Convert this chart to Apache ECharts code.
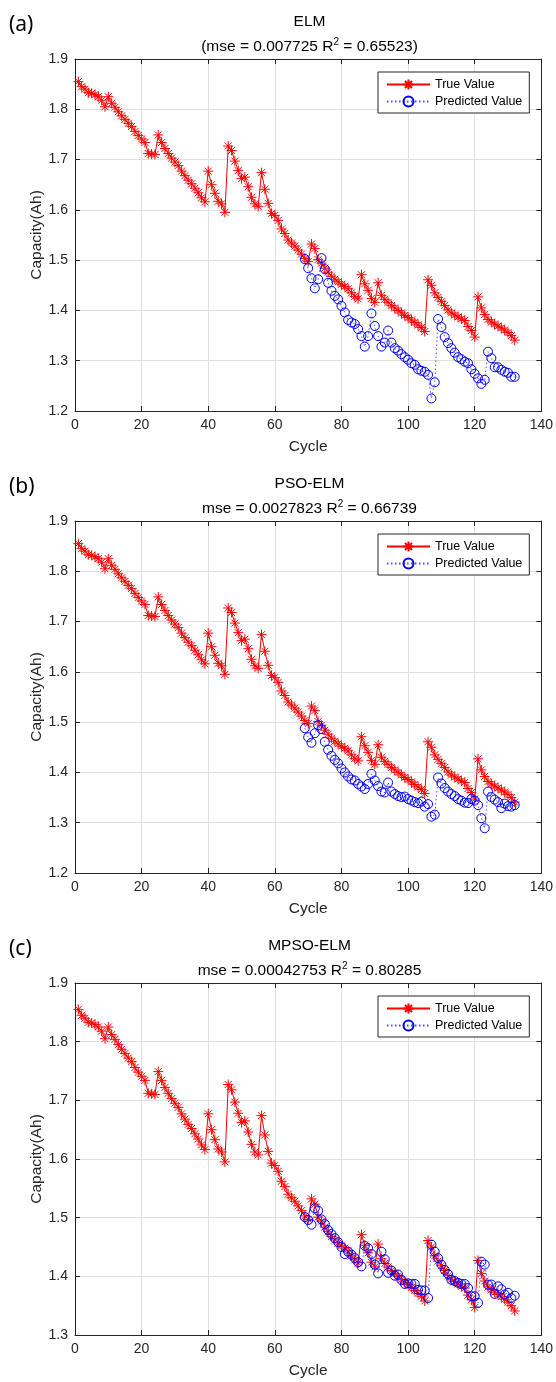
<!DOCTYPE html>
<html><head><meta charset="utf-8">
<script src="https://cdn.jsdelivr.net/npm/echarts@6/dist/echarts.min.js"></script>
<style>html,body{margin:0;padding:0;background:#fff}#c{width:556px;height:1382px}</style>
</head><body><div id="c"></div>
<script>
// ---- data ----
const trueCap = [
 1.855,1.845,1.840,1.833,1.832,1.829,1.825,1.818,1.805,1.825,
 1.812,1.804,1.795,1.787,1.780,1.772,1.766,1.756,1.748,1.741,
 1.734,1.712,1.711,1.710,1.749,1.734,1.722,1.712,1.703,1.695,
 1.688,1.677,1.668,1.659,1.652,1.643,1.634,1.624,1.616,1.677,
 1.650,1.633,1.617,1.612,1.595,1.727,1.718,1.697,1.678,1.662,
 1.665,1.646,1.625,1.612,1.607,1.674,1.641,1.613,1.593,1.589,
 1.579,1.562,1.553,1.540,1.534,1.528,1.520,1.512,1.503,1.497,
 1.532,1.523,1.501,1.494,1.484,1.476,1.468,1.462,1.457,1.452,
 1.448,1.443,1.435,1.428,1.423,1.471,1.453,1.440,1.424,1.416,
 1.455,1.430,1.422,1.416,1.410,1.405,1.400,1.395,1.390,1.386,
 1.381,1.376,1.371,1.366,1.358,1.461,1.450,1.435,1.426,1.418,
 1.410,1.401,1.395,1.391,1.387,1.383,1.380,1.368,1.360,1.347,
 1.427,1.405,1.392,1.382,1.377,1.373,1.369,1.365,1.361,1.356,
 1.350,1.341
];
const predStartCycle = 69;
const predELM = [
 1.502,1.484,1.464,1.444,1.462,1.504,1.482,1.455,1.439,1.429,
 1.422,1.409,1.396,1.381,1.376,1.373,1.363,1.349,1.328,1.349,
 1.394,1.369,1.349,1.328,1.336,1.360,1.336,1.325,1.320,1.313,
 1.307,1.302,1.295,1.292,1.283,1.280,1.278,1.272,1.225,1.257,
 1.383,1.367,1.347,1.335,1.325,1.316,1.307,1.303,1.298,1.295,
 1.283,1.274,1.265,1.254,1.262,1.318,1.305,1.287,1.287,1.282,
 1.278,1.276,1.268,1.268
];
const predPSO = [
 1.488,1.470,1.459,1.478,1.494,1.486,1.461,1.445,1.433,1.425,
 1.418,1.408,1.400,1.392,1.386,1.384,1.377,1.372,1.367,1.377,
 1.397,1.384,1.373,1.362,1.360,1.380,1.362,1.357,1.353,1.351,
 1.352,1.347,1.344,1.341,1.339,1.342,1.332,1.337,1.312,1.316,
 1.390,1.378,1.369,1.362,1.357,1.353,1.347,1.344,1.340,1.339,
 1.347,1.344,1.335,1.309,1.289,1.362,1.351,1.346,1.341,1.329,
 1.338,1.333,1.332,1.335
];
const predMPSO = [
 1.501,1.496,1.488,1.516,1.512,1.497,1.489,1.479,1.472,1.465,
 1.458,1.450,1.438,1.442,1.437,1.431,1.424,1.417,1.452,1.448,
 1.438,1.420,1.405,1.442,1.429,1.406,1.410,1.401,1.403,1.394,
 1.387,1.388,1.387,1.387,1.377,1.376,1.376,1.363,1.454,1.442,
 1.431,1.420,1.411,1.404,1.394,1.392,1.389,1.387,1.387,1.380,
 1.366,1.366,1.355,1.425,1.420,1.386,1.386,1.370,1.383,1.378,
 1.369,1.372,1.363,1.367
];
const panelLabels = ['(a)', '(b)', '(c)'];
const modelNames = ['ELM', 'PSO-ELM', 'MPSO-ELM'];
const mseTexts = ['0.007725', '0.0027823', '0.00042753'];
const r2Texts = ['0.65523', '0.66739', '0.80285'];
const wrapParens = [true, false, false];
const yMins = [1.2, 1.2, 1.3];
const yMax = 1.9;
const yInterval = 0.1;
const xMin = 0, xMax = 140, xInterval = 20;
const seriesNames = ['True Value', 'Predicted Value'];

// ---- build ----
const predictions = [predELM, predPSO, predMPSO];
const truePairs = trueCap.map((v, i) => [i + 1, v]);
const predPairs = predictions.map(arr => arr.map((v, i) => [predStartCycle + i, v]));

const FONT = '"Liberation Sans", Arial, sans-serif';
const BLOCK = 462, GL = 75, GT = 59, GW = 469, GH = 352;
const AX = '#262626';
const STAR = 'path://M0,5L10,5M5,0L5,10M1.5,1.5L8.5,8.5M1.5,8.5L8.5,1.5';

const mctx = document.createElement('canvas').getContext('2d');
function tw(t, size) { mctx.font = size + 'px "Liberation Sans"'; return mctx.measureText(t).width; }

const grids = [], xAxes = [], yAxes = [], series = [], legends = [], elements = [];
for (let i = 0; i < 3; i++) {
  const off = i * BLOCK;
  const top = GT + off;
  grids.push({ left: GL, top: top, width: GW, height: GH, show: false });
  const axisLine = { show: true, onZero: false, lineStyle: { color: AX, width: 1 } };
  const tick = { show: true, inside: true, length: 5, lineStyle: { color: AX, width: 1 } };
  xAxes.push({
    gridIndex: i, type: 'value', position: 'bottom', min: xMin, max: xMax, interval: xInterval,
    axisLine: axisLine, axisTick: tick,
    axisLabel: { fontSize: 14, color: AX, margin: 7, fontFamily: FONT },
    splitLine: { show: true, lineStyle: { color: '#dfdfdf', width: 1 } },
    name: 'Cycle', nameLocation: 'middle', nameGap: 28, nameMoveOverlap: false,
    nameTextStyle: { fontSize: 15.5, color: AX, fontFamily: FONT }
  });
  xAxes.push({
    gridIndex: i, type: 'value', position: 'top', min: xMin, max: xMax, interval: xInterval,
    axisLine: axisLine, axisTick: tick, axisLabel: { show: false }, splitLine: { show: false }
  });
  yAxes.push({
    gridIndex: i, type: 'value', position: 'left', min: yMins[i], max: yMax, interval: yInterval,
    axisLine: axisLine, axisTick: tick,
    axisLabel: { fontSize: 14, color: AX, margin: 7, fontFamily: FONT, formatter: v => v.toFixed(1) },
    splitLine: { show: true, lineStyle: { color: '#dfdfdf', width: 1 } },
    name: 'Capacity(Ah)', nameLocation: 'middle', nameGap: 30, nameRotate: 90, nameMoveOverlap: false,
    nameTextStyle: { fontSize: 15.5, color: AX, fontFamily: FONT }
  });
  yAxes.push({
    gridIndex: i, type: 'value', position: 'right', min: yMins[i], max: yMax, interval: yInterval,
    axisLine: axisLine, axisTick: tick, axisLabel: { show: false }, splitLine: { show: false }
  });
  series.push({
    name: seriesNames[0], type: 'line', xAxisIndex: 2 * i, yAxisIndex: 2 * i,
    data: truePairs, symbol: STAR, symbolSize: 10, showSymbol: true,
    itemStyle: { color: '#ff0000', borderColor: '#ff0000', borderWidth: 1 },
    lineStyle: { color: '#ff0000', width: 1 }, z: 3
  });
  series.push({
    name: seriesNames[1], type: 'line', xAxisIndex: 2 * i, yAxisIndex: 2 * i,
    data: predPairs[i], symbol: 'circle', symbolSize: 9, showSymbol: true,
    itemStyle: { color: 'rgba(0,0,0,0)', borderColor: '#0000ff', borderWidth: 1 },
    lineStyle: { color: '#4d4dff', width: 1, type: [1.5, 2.5] }, z: 4
  });
  legends.push({
    data: seriesNames, orient: 'vertical', left: 378, top: 72 + off,
    itemWidth: 43, itemHeight: 12.5, itemGap: 4,
    padding: [6, 7, 5, 8], borderColor: AX, borderWidth: 1, backgroundColor: '#fff',
    textStyle: { fontSize: 12.5, color: '#000', fontFamily: FONT, lineHeight: 13 },
    selectedMode: false
  });
  elements.push({ type: 'text', x: 9, y: 25 + off,
    style: { text: panelLabels[i], font: '21px "Noto Sans"', fill: '#000', align: 'left', verticalAlign: 'middle' } });
  const cx = GL + GW / 2;
  elements.push({ type: 'text', x: cx, y: 22 + off,
    style: { text: modelNames[i], font: '15.5px ' + FONT, fill: '#000', align: 'center', verticalAlign: 'middle' } });
  const pre = (wrapParens[i] ? '(' : '') + 'mse = ' + mseTexts[i] + ' R';
  const sup = '2';
  const post = ' = ' + r2Texts[i] + (wrapParens[i] ? ')' : '');
  const wPre = tw(pre, 15.5), wSup = tw(sup, 10), wPost = tw(post, 15.5);
  const x0 = cx - (wPre + wSup + wPost) / 2;
  const y2 = 47 + off;
  elements.push({ type: 'text', x: x0, y: y2,
    style: { text: pre, font: '15.5px ' + FONT, fill: '#000', align: 'left', verticalAlign: 'middle' } });
  elements.push({ type: 'text', x: x0 + wPre, y: y2 - 5,
    style: { text: sup, font: '10px ' + FONT, fill: '#000', align: 'left', verticalAlign: 'middle' } });
  elements.push({ type: 'text', x: x0 + wPre + wSup, y: y2,
    style: { text: post, font: '15.5px ' + FONT, fill: '#000', align: 'left', verticalAlign: 'middle' } });
}

const chart = echarts.init(document.getElementById('c'), null, { renderer: 'canvas' });
chart.setOption({
  backgroundColor: '#fff',
  animation: false,
  grid: grids, xAxis: xAxes, yAxis: yAxes, series: series, legend: legends,
  graphic: { elements: elements }
});
</script>
</body></html>
